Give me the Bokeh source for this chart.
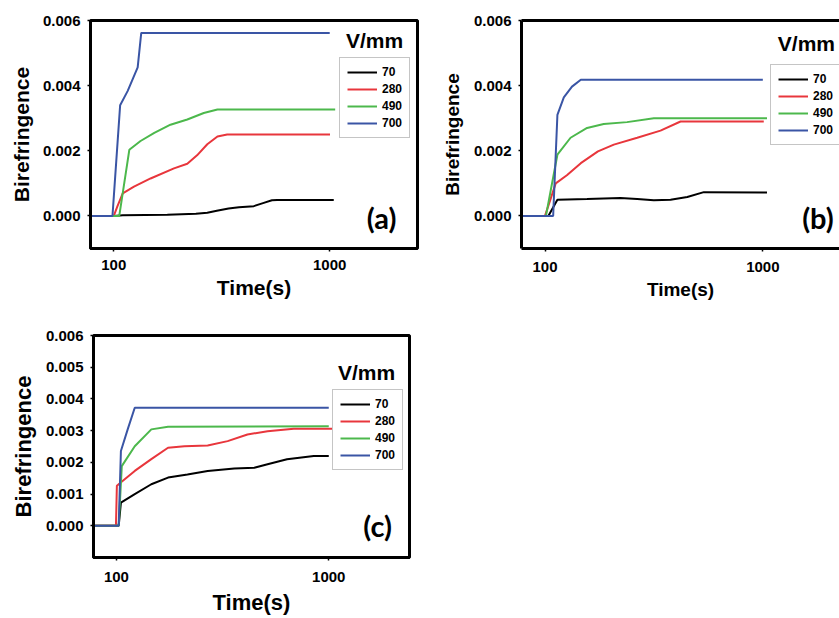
from bokeh.plotting import figure
from bokeh.layouts import column, row
from bokeh.models import (FixedTicker, PrintfTickFormatter, Legend, LegendItem,
                          Label, LogAxis, Range1d)
from bokeh.embed import file_html
from bokeh.resources import INLINE

# ---------------- data ----------------
series_labels = ["70", "280", "490", "700"]
series_colors = ["#000000", "#e8363c", "#4cb84c", "#3a55a5"]
x_ticks = [100, 1000]
y_ticks_ab = [0.0, 0.002, 0.004, 0.006]
y_ticks_c = [0.0, 0.001, 0.002, 0.003, 0.004, 0.005, 0.006]
panel_tags = ["(a)", "(b)", "(c)"]
unit_label = "V/mm"

# panel (a)
a70_t = [78, 100, 110, 177, 240, 271, 300, 340, 380, 445, 495, 540, 571, 1044]
a70_v = [0, 0, 0.00002, 0.00004, 0.00007, 0.0001, 0.00016, 0.00023, 0.00027, 0.0003, 0.0004, 0.00048, 0.00049, 0.00049]
a280_t = [78, 100, 104, 110, 124, 148, 190, 219, 243, 271, 302, 335, 1003]
a280_v = [0, 0, 0.0003, 0.00069, 0.0009, 0.00115, 0.00146, 0.0016, 0.00186, 0.0022, 0.00244, 0.0025, 0.0025]
a490_t = [78, 106, 118, 133, 154, 183, 219, 261, 302, 1060]
a490_v = [0, 0, 0.00203, 0.0023, 0.00255, 0.0028, 0.00296, 0.00316, 0.00327, 0.00327]
a700_t = [78, 98.6, 107, 116, 129, 134, 1000]
a700_v = [0, 0, 0.0034, 0.00384, 0.00456, 0.00562, 0.00562]

# panel (b)
b70_t = [78, 103.6, 114, 156, 222, 265, 316, 377, 450, 536, 1045]
b70_v = [0, 0, 0.0005, 0.00052, 0.00055, 0.00052, 0.00048, 0.0005, 0.00058, 0.00073, 0.00072]
b280_t = [78, 100, 112, 126, 146, 175, 207, 265, 339, 419, 1010]
b280_v = [0, 0, 0.001, 0.00125, 0.00162, 0.00198, 0.00219, 0.0024, 0.00262, 0.0029, 0.0029]
b490_t = [78, 101, 114, 131, 156, 186, 238, 316, 1045]
b490_v = [0, 0, 0.00188, 0.0024, 0.0027, 0.00282, 0.00288, 0.003, 0.003]
b700_t = [78, 109, 114, 122, 133, 146, 1000]
b700_v = [0, 0, 0.0031, 0.00364, 0.00397, 0.00418, 0.00418]

# panel (c)
c70_t = [78, 102.5, 105, 122, 146, 175, 216, 269, 359, 446, 515, 636, 850, 1000]
c70_v = [0, 0, 0.00073, 0.001, 0.00131, 0.00152, 0.00162, 0.00173, 0.00181, 0.00183, 0.00194, 0.0021, 0.0022, 0.0022]
c280_t = [78, 99.5, 100.5, 105.5, 122, 146, 175, 209, 269, 334, 414, 515, 684, 1050]
c280_v = [0, 0, 0.00126, 0.00138, 0.00173, 0.0021, 0.00246, 0.00251, 0.00253, 0.00267, 0.00288, 0.00298, 0.00306, 0.00306]
c490_t = [78, 102.5, 106, 122, 146, 175, 1000]
c490_v = [0, 0, 0.00188, 0.00251, 0.00304, 0.00312, 0.00314]
c700_t = [78, 102.5, 105, 113, 122, 1000]
c700_v = [0, 0, 0.00236, 0.00304, 0.00372, 0.00372]

FONT = "Liberation Sans"


def make_panel(series, tag, cfg):
    p = figure(width=cfg["w"], height=cfg["h"], x_axis_type="log",
               x_range=Range1d(78, cfg["xend"]), y_range=Range1d(-0.001, 0.006),
               output_backend="svg", toolbar_location=None,
               min_border_left=cfg["bl"], min_border_right=cfg["br"],
               min_border_top=cfg["bt"], min_border_bottom=cfg["bb"],
               background_fill_color="white", border_fill_color="white")
    p.xgrid.visible = False
    p.ygrid.visible = False

    xax = p.below[0]
    yax = p.left[0]
    xax.ticker = FixedTicker(ticks=x_ticks, minor_ticks=[])
    xax.formatter = PrintfTickFormatter(format="%d")
    yax.ticker = FixedTicker(ticks=cfg["yticks"], minor_ticks=[])
    yax.formatter = PrintfTickFormatter(format="%.3f")
    xax.axis_label = "Time(s)"
    yax.axis_label = "Birefringence"
    for ax in (xax, yax):
        ax.axis_line_width = 3
        ax.axis_line_color = "black"
        ax.major_tick_out = 3
        ax.major_tick_in = 0
        ax.minor_tick_out = 0
        ax.minor_tick_in = 0
        ax.major_tick_line_width = 1.5
        ax.major_label_text_font = FONT
        ax.major_label_text_font_style = "bold"
        ax.major_label_text_font_size = "15px"
        ax.major_label_text_color = "black"
        ax.axis_label_text_font = FONT
        ax.axis_label_text_font_style = "bold"
        ax.axis_label_text_font_size = cfg["lab_fs"]
        ax.axis_label_text_color = "black"
    xax.major_label_standoff = cfg["x_std"]
    xax.axis_label_standoff = cfg["x_lstd"]
    yax.major_label_standoff = 7
    yax.axis_label_standoff = cfg["y_lstd"]

    if cfg["box"]:
        p.outline_line_color = "black"
        p.outline_line_width = 3
        p.outline_line_alpha = 1
    else:
        p.outline_line_color = None
        top = LogAxis(ticker=FixedTicker(ticks=[], minor_ticks=[]),
                      major_label_text_font_size="0px",
                      major_tick_out=0, major_tick_in=0,
                      minor_tick_out=0, minor_tick_in=0,
                      axis_line_width=3, axis_line_color="black")
        p.add_layout(top, "above")

    items = []
    for (t, v), lab, col in zip(series, series_labels, series_colors):
        r = p.line(t, v, line_color=col, line_width=2)
        items.append(LegendItem(label=lab, renderers=[r]))
    leg = Legend(items=items, location=cfg["leg"],
                 border_line_color="#8c8c8c", border_line_width=1,
                 background_fill_color="white", background_fill_alpha=1,
                 label_text_font=FONT, label_text_font_style="bold",
                 label_text_font_size="12px", label_text_color="black",
                 glyph_width=30, glyph_height=14, label_height=14,
                 spacing=3, padding=7, margin=0, label_standoff=5)
    p.add_layout(leg, "center")

    p.add_layout(Label(x=cfg["unit_xy"][0], y=cfg["unit_xy"][1], text=unit_label,
                       text_font=FONT, text_font_style="bold", text_font_size="21px",
                       text_align="center", text_baseline="middle", text_color="black"))
    p.add_layout(Label(x=cfg["tag_xy"][0], y=cfg["tag_xy"][1], text=tag,
                       text_font="Lato", text_font_style="bold", text_font_size="29px",
                       text_align="center", text_baseline="middle", text_color="black"))
    return p


cfg_a = dict(w=420, h=320, xend=2550, bl=90, br=3, bt=20, bb=72, box=True,
             yticks=y_ticks_ab, lab_fs="21px", x_std=8, x_lstd=3, y_lstd=7,
             leg=(249, 110), unit_xy=(1614, 0.00539), tag_xy=(1740, -0.00005))
cfg_b = dict(w=419, h=320, xend=2249, bl=101, br=0, bt=20, bb=72, box=False,
             yticks=y_ticks_ab, lab_fs="19px", x_std=10, x_lstd=4, y_lstd=8,
             leg=(249, 103), unit_xy=(1585, 0.00528), tag_xy=(1790, -0.00005))
cfg_c = dict(w=420, h=298, xend=2400, bl=93, br=11, bt=15, bb=61, box=True,
             yticks=y_ticks_c, lab_fs="22px", x_std=11, x_lstd=5, y_lstd=7,
             leg=(239, 87), unit_xy=(1507, 0.00483), tag_xy=(1699, 0.0))

pa = make_panel([(a70_t, a70_v), (a280_t, a280_v), (a490_t, a490_v), (a700_t, a700_v)],
                panel_tags[0], cfg_a)
pb = make_panel([(b70_t, b70_v), (b280_t, b280_v), (b490_t, b490_v), (b700_t, b700_v)],
                panel_tags[1], cfg_b)
pc = make_panel([(c70_t, c70_v), (c280_t, c280_v), (c490_t, c490_v), (c700_t, c700_v)],
                panel_tags[2], cfg_c)

layout = column(row(pa, pb), pc)
open("out.html", "w").write(file_html(layout, INLINE))
